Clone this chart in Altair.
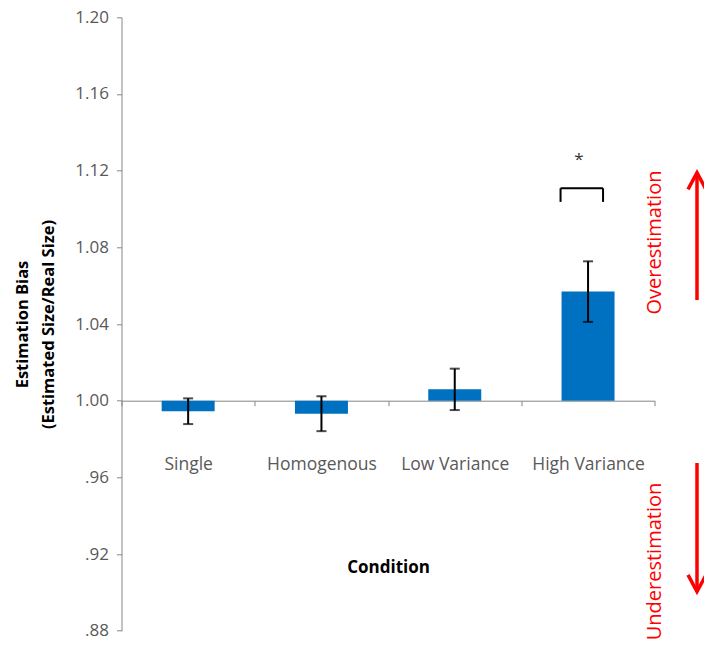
import altair as alt
import pandas as pd

# Bar values: mean estimation bias per condition, with error half-widths
conditions = ["Single", "Homogenous", "Low Variance", "High Variance"]
means = [0.9945, 0.9932, 1.0059, 1.0569]
errors = [0.0067, 0.0091, 0.0108, 0.0158]

y_ticks = [0.88, 0.92, 0.96, 1.00, 1.04, 1.08, 1.12, 1.16, 1.20]

# Significance marker above the High Variance bar
sig_condition = ["High Variance"]
bracket_top = [1.1108]
bracket_bottom = [1.1037]
star_y = [1.1256]

# Direction annotations to the right of the plot
arrow_labels = ["Overestimation", "Underestimation"]
arrow_label_y = [1.0825, 0.9161]
arrow_start = [1.0525, 0.9675]
arrow_tip = [1.1189, 0.9004]

FONT = "Open Sans"
BLUE = "#0070C0"
GREY = "#868686"

df = pd.DataFrame({
    "Condition": conditions,
    "mean": means,
    "lo": [m - e for m, e in zip(means, errors)],
    "hi": [m + e for m, e in zip(means, errors)],
    "base": [1.0] * len(conditions),
})

sig = pd.DataFrame({
    "Condition": sig_condition,
    "top": bracket_top,
    "bottom": bracket_bottom,
    "star": star_y,
})

arrows = pd.DataFrame({
    "label": arrow_labels,
    "label_y": arrow_label_y,
    "start": arrow_start,
    "tip": arrow_tip,
})

x_enc = alt.X(
    "Condition:N",
    sort=conditions,
    scale=alt.Scale(paddingInner=0, paddingOuter=0),
    axis=alt.Axis(
        title="Condition",
        orient="bottom",
        offset=-230,
        labelAngle=0,
        tickBand="extent",
        tickSize=5,
        labelPadding=50,
        titlePadding=86,
        domainColor=GREY,
        tickColor=GREY,
        labelColor="#595959",
        labelFont=FONT,
        labelFontSize=17.5,
        titleFont=FONT,
        titleFontSize=17,
        titleFontWeight="bold",
        titleColor="black",
    ),
)

y_scale = alt.Scale(domain=[0.88, 1.20], nice=False, zero=False)

bars = alt.Chart(df).mark_bar(width=53, color=BLUE).encode(
    x=x_enc,
    y=alt.Y(
        "mean:Q",
        scale=y_scale,
        axis=alt.Axis(
            values=y_ticks,
            labelExpr="datum.value < 1 ? replace(format(datum.value, '.2f'), '0.', '.') : format(datum.value, '.2f')",
            title=["Estimation Bias", "(Estimated Size/Real Size)"],
            titleFont=FONT,
            titleFontSize=16.5,
            titleFontWeight="bold",
            titleColor="black",
            titleLineHeight=26,
            titlePadding=18,
            tickSize=5,
            labelPadding=8,
            domainColor=GREY,
            tickColor=GREY,
            labelColor="#595959",
            labelFont=FONT,
            labelFontSize=17,
            grid=False,
        ),
    ),
    y2="base:Q",
)

err_rule = alt.Chart(df).mark_rule(color="black", strokeWidth=2).encode(
    x=alt.X("Condition:N", sort=conditions),
    y="lo:Q",
    y2="hi:Q",
)
err_lo = alt.Chart(df).mark_tick(color="black", size=10, thickness=2).encode(
    x=alt.X("Condition:N", sort=conditions), y="lo:Q"
)
err_hi = alt.Chart(df).mark_tick(color="black", size=10, thickness=2).encode(
    x=alt.X("Condition:N", sort=conditions), y="hi:Q"
)

bracket_h = alt.Chart(sig).mark_rule(
    color="black", strokeWidth=2, xOffset=-27.5, x2Offset=15
).encode(
    x=alt.X("Condition:N", sort=conditions),
    x2="Condition:N",
    y="top:Q",
)
bracket_l = alt.Chart(sig).mark_rule(color="black", strokeWidth=2, xOffset=-27.5).encode(
    x=alt.X("Condition:N", sort=conditions), y="bottom:Q", y2="top:Q"
)
bracket_r = alt.Chart(sig).mark_rule(color="black", strokeWidth=2, xOffset=15).encode(
    x=alt.X("Condition:N", sort=conditions), y="bottom:Q", y2="top:Q"
)
star = alt.Chart(sig).mark_text(
    text="*", font=FONT, fontSize=17, color="#333333", xOffset=-9, baseline="middle"
).encode(
    x=alt.X("Condition:N", sort=conditions), y="star:Q"
)

arrow_text = alt.Chart(arrows).mark_text(
    font=FONT, fontSize=20, color="#FF0000", angle=270, align="center", baseline="middle"
).encode(
    x=alt.value(533.5),
    y="label_y:Q",
    text="label:N",
)
arrow_shaft = alt.Chart(arrows).mark_rule(color="#FF0000", strokeWidth=3.5).encode(
    x=alt.value(575.5),
    y="start:Q",
    y2="tip:Q",
)
head_up = alt.Chart(arrows).transform_filter(
    alt.datum.tip > alt.datum.start
).mark_point(
    shape="M-1,0.85L0,-1L1,0.85", filled=False, size=324, strokeWidth=3.5,
    color="#FF0000", yOffset=9, opacity=1,
).encode(x=alt.value(575.5), y="tip:Q")
head_down = alt.Chart(arrows).transform_filter(
    alt.datum.tip < alt.datum.start
).mark_point(
    shape="M-1,-0.85L0,1L1,-0.85", filled=False, size=324, strokeWidth=3.5,
    color="#FF0000", yOffset=-9, opacity=1,
).encode(x=alt.value(575.5), y="tip:Q")

chart = alt.layer(
    bars, err_rule, err_lo, err_hi,
    bracket_h, bracket_l, bracket_r, star,
    arrow_text, arrow_shaft, head_up, head_down,
).properties(
    width=533.2,
    height=613.4,
    autosize=alt.AutoSizeParams(type="none"),
    padding={"left": 121.5, "top": 17.3, "right": 49.3, "bottom": 15.3},
    background="white",
).configure_view(strokeWidth=0)

chart.save("out.html", embed_options={"renderer": "svg", "actions": False})
